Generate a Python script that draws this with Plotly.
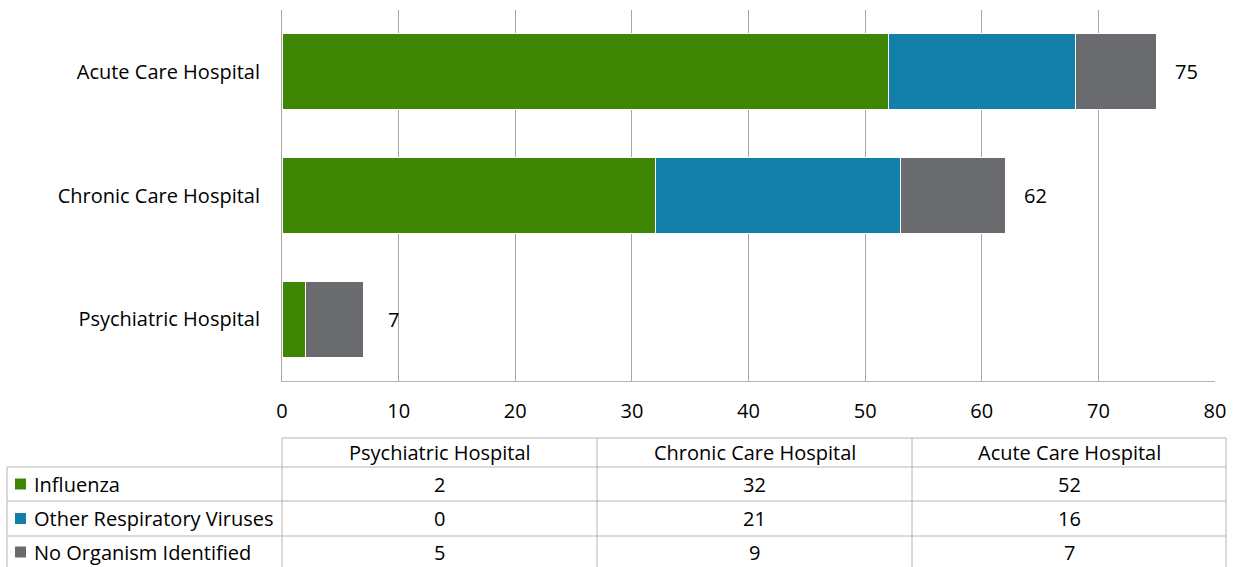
import plotly.graph_objects as go

# Facility types (bottom to top on the chart, left to right in the table)
categories = ["Psychiatric Hospital", "Chronic Care Hospital", "Acute Care Hospital"]

# Outbreak counts by organism
series_names = ["Influenza", "Other Respiratory Viruses", "No Organism Identified"]
influenza = [2, 32, 52]
other_resp = [0, 21, 16]
no_organism = [5, 9, 7]
series_values = [influenza, other_resp, no_organism]
series_colors = ["#3f8605", "#1280a9", "#6a6b6e"]

x_ticks = [0, 10, 20, 30, 40, 50, 60, 70, 80]

FONT = "Open Sans"
FS = 20
W, H = 1239, 567
PL, PR, PT, PB = 282, 1215, 10, 381  # plot area in pixels

fig = go.Figure()
for name, vals, col in zip(series_names, series_values, series_colors):
    fig.add_trace(go.Bar(
        y=categories, x=vals, name=name, orientation="h",
        marker=dict(color=col, line=dict(color="white", width=1)),
        hoverinfo="x+name",
    ))

totals = [sum(v) for v in zip(*series_values)]
annotations = []
for cat, tot in zip(categories, totals):
    annotations.append(dict(
        x=tot, y=cat, xref="x", yref="y", text=str(tot), showarrow=False,
        xanchor="center", yanchor="middle", xshift=30,
        font=dict(family=FONT, size=FS, color="#000000"),
    ))


def px(xp):
    return (xp - PL) / (PR - PL)


def py(yp):
    return (PB - yp) / (PB - PT)


# Data table beneath the axis
grid_col = "#b4b4b4"
col_edges = [282, 597, 912, 1226]
row_edges = [438, 467, 501, 536, 568]
left_edge = 7
shapes = []


def hline(y, x0, x1):
    shapes.append(dict(type="line", xref="paper", yref="paper",
                       x0=px(x0), x1=px(x1), y0=py(y), y1=py(y),
                       line=dict(color=grid_col, width=1)))


def vline(x, y0, y1):
    shapes.append(dict(type="line", xref="paper", yref="paper",
                       x0=px(x), x1=px(x), y0=py(y0), y1=py(y1),
                       line=dict(color=grid_col, width=1)))


hline(row_edges[0], col_edges[0], col_edges[-1])
for y in row_edges[1:4]:
    hline(y, left_edge, col_edges[-1])
for x in col_edges:
    vline(x, row_edges[0], row_edges[-1])
vline(left_edge, row_edges[1], row_edges[-1])

# header row
for i, cat in enumerate(categories):
    cx = (col_edges[i] + col_edges[i + 1]) / 2
    cy = (row_edges[0] + row_edges[1]) / 2
    annotations.append(dict(
        x=px(cx), y=py(cy), xref="paper", yref="paper", text=cat,
        showarrow=False, xanchor="center", yanchor="middle",
        font=dict(family=FONT, size=FS, color="#000000"),
    ))

# body rows: legend key, series name, values
for r, (name, vals, col) in enumerate(zip(series_names, series_values, series_colors)):
    cy = (row_edges[r + 1] + row_edges[r + 2]) / 2
    shapes.append(dict(type="rect", xref="paper", yref="paper",
                       x0=px(15), x1=px(26), y0=py(cy - 5.5), y1=py(cy + 5.5),
                       fillcolor=col, line=dict(width=0)))
    annotations.append(dict(
        x=px(32), y=py(cy), xref="paper", yref="paper", text=name,
        showarrow=False, xanchor="left", yanchor="middle",
        font=dict(family=FONT, size=FS, color="#000000"),
    ))
    for i, v in enumerate(vals):
        cx = (col_edges[i] + col_edges[i + 1]) / 2
        annotations.append(dict(
            x=px(cx), y=py(cy), xref="paper", yref="paper", text=str(v),
            showarrow=False, xanchor="center", yanchor="middle",
            font=dict(family=FONT, size=FS, color="#000000"),
        ))

fig.update_layout(
    width=W, height=H,
    margin=dict(l=PL, r=W - PR, t=PT, b=H - PB, pad=0),
    barmode="stack", bargap=0.385,
    showlegend=False,
    plot_bgcolor="white", paper_bgcolor="white",
    font=dict(family=FONT, size=FS, color="#000000"),
    xaxis=dict(
        range=[0, 80], tickvals=x_ticks, ticktext=[str(t) for t in x_ticks],
        showgrid=True, gridcolor="#a6a6a6", gridwidth=1,
        zeroline=False, showline=True, linecolor="#b4b4b4", linewidth=1,
        ticks="", ticklabelstandoff=12, fixedrange=True,
        tickfont=dict(family=FONT, size=FS, color="#000000"),
    ),
    yaxis=dict(
        categoryorder="array", categoryarray=categories,
        showgrid=False, zeroline=False, showline=True,
        linecolor="#a6a6a6", linewidth=1, ticks="",
        ticklabelstandoff=17, fixedrange=True,
        tickfont=dict(family=FONT, size=FS, color="#000000"),
    ),
    shapes=shapes, annotations=annotations,
)

fig.write_html("out.html")
